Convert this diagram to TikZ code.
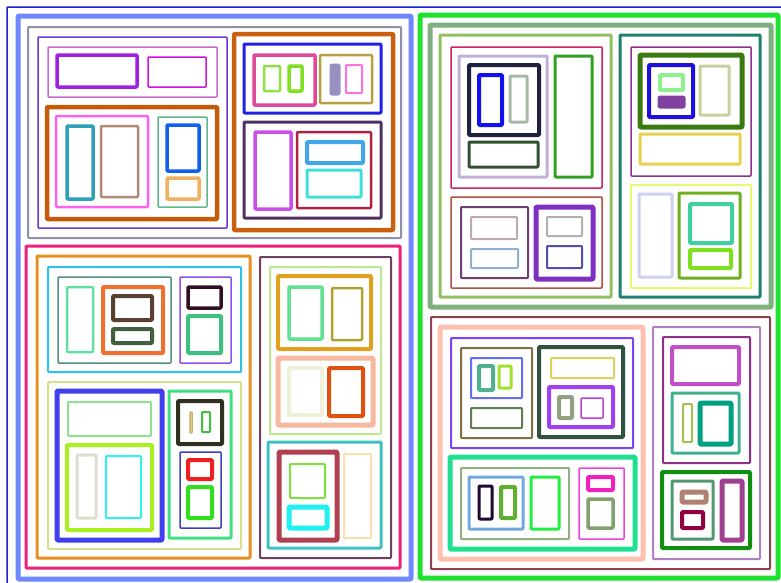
\documentclass[tikz,border=0pt]{standalone}
\usepackage{xcolor}
\tikzset{bx/.style={line join=round,rounded corners=0.8pt}}
\newcommand\bx[6]{\definecolor{tmpc}{HTML}{#5}\draw[bx,draw=tmpc,line width=#6pt] (#1,#2) rectangle (#3,#4);}
\newcommand\fbx[6]{\definecolor{tmpc}{HTML}{#5}\draw[bx,draw=tmpc,fill=tmpc,line width=#6pt] (#1,#2) rectangle (#3,#4);}
\begin{document}
\begin{tikzpicture}[x=1pt,y=-1pt]
\fill[white] (0,0) rectangle (781,582);
\useasboundingbox (0,0) rectangle (781,582);
\begin{scope}
\clip (0,0) rectangle (781,582);
\bx{7}{7}{790}{590}{1A20D8}{1.5}
% ===== left big
\bx{18}{16}{411}{579}{7088FF}{5}
\bx{28}{27}{401}{238}{9090A8}{2}
\bx{38}{37}{227}{228}{6A3AD8}{1.5}
\bx{48}{47}{217}{97}{C86AD0}{1.5}
\bx{57}{55}{137}{87}{A020E0}{3.5}
\bx{148}{57}{206}{87}{D010E0}{1.5}
\bx{47}{107}{217}{219}{C45A0A}{4.5}
\bx{56}{116}{148}{207}{FF60F0}{2.5}
\bx{67}{126}{93}{199}{30A0B8}{3.5}
\bx{101}{126}{138}{197}{B08878}{2.5}
\bx{158}{117}{207}{207}{60B890}{1.5}
\bx{167}{125}{199}{171}{1060F0}{3.5}
\bx{167}{178}{199}{199}{F0B060}{3.5}
\bx{234}{34}{393}{230}{C86010}{4.5}
\bx{244}{44}{381}{113}{2020E8}{3}
\bx{254}{55}{315}{105}{E0489A}{3.5}
\bx{264}{66}{280}{91}{90E040}{2.5}
\bx{289}{66}{302}{91}{80E020}{3.5}
\bx{320}{55}{372}{103}{B8A040}{2.5}
\fbx{331}{65}{339}{94}{9890C0}{3}
\bx{346}{65}{362}{93}{FF70E0}{2}
\bx{244}{122}{381}{218}{503060}{3}
\bx{255}{132}{291}{209}{C850E8}{3.5}
\bx{297}{132}{371}{208}{B02040}{2.5}
\bx{307}{142}{363}{163}{40A8E8}{4}
\bx{307}{170}{361}{197}{40E0D8}{3}
% left lower
\bx{26}{246}{400}{568}{F0207A}{3}
\bx{37}{256}{250}{558}{E89020}{3}
\bx{48}{267}{241}{372}{30C0F0}{2}
\bx{58}{277}{171}{363}{509080}{1.5}
\bx{67}{287}{93}{352}{60E0A0}{2.5}
\bx{103}{287}{163}{353}{F07030}{4}
\bx{113}{296}{152}{320}{5A4030}{4}
\bx{113}{329}{152}{343}{406040}{4}
\bx{180}{277}{231}{363}{9050F0}{1.5}
\bx{188}{287}{221}{308}{301020}{3.5}
\bx{188}{316}{221}{353}{40C080}{4}
\bx{48}{382}{241}{549}{D8E090}{2}
\bx{57}{391}{162}{540}{4040F0}{5}
\bx{68}{402}{151}{436}{90E090}{2}
\bx{67}{445}{152}{530}{A8F020}{4}
\bx{77}{455}{96}{518}{E0DCD0}{3}
\bx{106}{456}{141}{518}{30F0F0}{2}
\bx{169}{391}{231}{538}{40E080}{3}
\bx{178}{401}{222}{444}{303020}{4}
\bx{190}{412}{192}{433}{C8B060}{1.5}
\bx{202}{412}{210}{432}{40C040}{2}
\bx{180}{452}{221}{528}{4040C0}{1.5}
\bx{188}{460}{212}{479}{F02020}{4}
\bx{188}{487}{212}{518}{30E020}{4}
\bx{260}{257}{391}{558}{704060}{2}
\bx{270}{267}{381}{434}{C0E890}{2}
\bx{278}{276}{371}{349}{E0A020}{4}
\bx{289}{287}{322}{339}{60E090}{3.5}
\bx{332}{288}{362}{340}{B0A030}{2.5}
\bx{278}{358}{373}{425}{F8B8A0}{5}
\bx{289}{368}{322}{415}{F0F0D8}{4}
\bx{329}{368}{363}{416}{E05010}{4}
\bx{268}{442}{381}{548}{40C0C0}{3}
\bx{279}{452}{337}{540}{B04050}{5}
\bx{290}{464}{325}{498}{80E040}{2}
\bx{289}{507}{327}{528}{20F0F0}{5}
\bx{344}{454}{371}{538}{F8E0B0}{2}
% ===== right big
\bx{420}{15}{778}{578}{20E030}{5}
\bx{430}{25}{771}{307}{80B080}{5}
\bx{440}{35}{611}{297}{90C060}{3}
\bx{451}{47}{602}{188}{D02060}{1.5}
\bx{459}{56}{547}{177}{C0B0D8}{3}
\bx{469}{65}{539}{135}{202040}{4}
\bx{479}{75}{502}{125}{1010F0}{4}
\bx{510}{76}{527}{122}{A8B8A8}{3}
\bx{469}{142}{538}{167}{305030}{3}
\bx{555}{56}{592}{177}{30A020}{3}
\bx{451}{197}{602}{288}{B05040}{1.5}
\bx{461}{207}{528}{278}{704070}{2}
\bx{471}{217}{517}{239}{C0A8B0}{2}
\bx{471}{249}{518}{268}{90B0D0}{2}
\bx{536}{207}{593}{279}{8030C0}{5}
\bx{547}{217}{582}{236}{B0B0B0}{2}
\bx{547}{246}{582}{268}{5050B0}{2}
\bx{620}{35}{760}{297}{208070}{3}
\bx{631}{47}{751}{176}{903090}{1.5}
\bx{640}{55}{742}{127}{3A7A10}{5}
\bx{649}{65}{693}{117}{2010E0}{4}
\bx{660}{75}{683}{90}{90F090}{4}
\fbx{659}{97}{684}{107}{8040A0}{3}
\bx{700}{66}{729}{115}{C8D0A0}{3}
\bx{640}{134}{740}{164}{E8D050}{3}
\bx{631}{185}{751}{288}{E8F870}{2}
\bx{639}{194}{672}{277}{D0D0F0}{3}
\bx{679}{193}{740}{278}{70B020}{3}
\bx{690}{204}{732}{243}{40D0A0}{4}
\bx{690}{250}{731}{268}{80E020}{4}
% right lower
\bx{431}{317}{770}{569}{904050}{2}
\bx{440}{327}{643}{559}{FFC0B0}{5}
\bx{451}{338}{633}{448}{8040F8}{2}
\bx{461}{348}{532}{438}{807040}{2}
\bx{471}{358}{522}{398}{6070F0}{2}
\bx{479}{366}{493}{390}{50B090}{4}
\bx{499}{366}{511}{388}{A0E030}{3}
\bx{471}{408}{522}{428}{608050}{2}
\bx{539}{347}{623}{437}{305040}{4}
\bx{551}{358}{614}{378}{E0D060}{2}
\bx{549}{387}{613}{427}{A040F0}{4}
\bx{559}{397}{572}{418}{90A080}{4}
\bx{581}{398}{603}{418}{C040E0}{1.5}
\bx{450}{457}{635}{549}{20E090}{5}
\bx{461}{468}{569}{539}{90B080}{2}
\bx{469}{477}{523}{529}{70A8E0}{3}
\bx{479}{486}{492}{519}{200830}{3}
\bx{501}{487}{515}{518}{60B030}{4}
\bx{531}{477}{559}{529}{20F040}{3}
\bx{579}{468}{624}{539}{F040E0}{1.5}
\bx{588}{477}{613}{490}{F020C0}{4}
\bx{588}{499}{613}{528}{80A070}{3.5}
\bx{653}{327}{760}{559}{B080C0}{2}
\bx{663}{337}{750}{463}{903088}{2}
\bx{672}{347}{739}{384}{C050C8}{4}
\bx{672}{393}{739}{453}{40B090}{3}
\bx{683}{404}{692}{442}{A0C050}{2}
\bx{700}{403}{731}{444}{00A080}{5}
\bx{662}{472}{750}{548}{109010}{4}
\bx{672}{481}{713}{539}{509870}{3}
\bx{682}{492}{706}{502}{B08070}{5}
\bx{682}{512}{703}{528}{900040}{4}
\bx{722}{481}{742}{540}{A04090}{5}
\end{scope}
\end{tikzpicture}
\end{document}
